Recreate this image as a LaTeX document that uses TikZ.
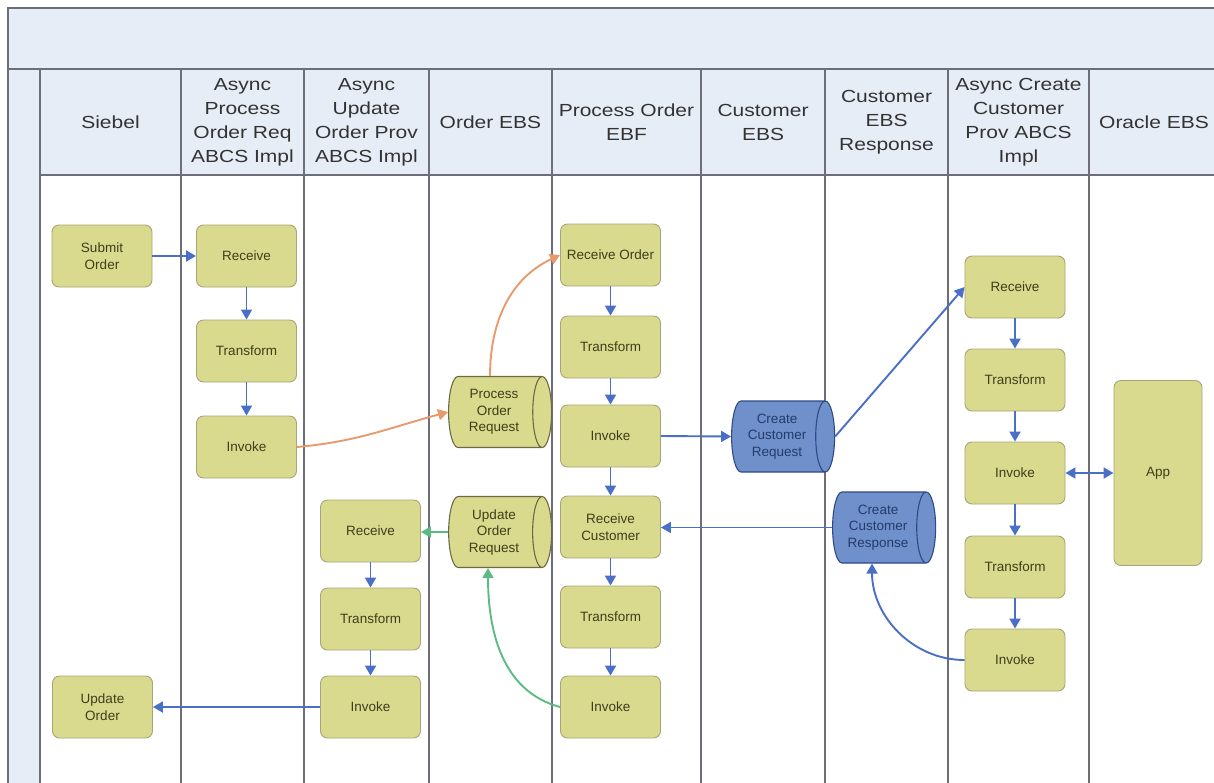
\documentclass[tikz,border=0pt]{standalone}
\usepackage{fontspec}
\newfontfamily\hdrfont[FakeStretch=1.2]{Liberation Sans}
\newfontfamily\bxfont{Liberation Sans}
\usetikzlibrary{shapes.geometric,arrows.meta}
\definecolor{bandbg}{HTML}{E7EDF7}
\definecolor{frameline}{HTML}{6E6E78}
\definecolor{boxfill}{HTML}{DADA8E}
\definecolor{boxline}{HTML}{A5A57A}
\definecolor{cylfline}{HTML}{6A6A45}
\definecolor{cylblue}{HTML}{7090CC}
\definecolor{cylline}{HTML}{2E4A86}
\definecolor{arrblue}{HTML}{4A6FC6}
\definecolor{arrorange}{HTML}{E79A6C}
\definecolor{arrgreen}{HTML}{5DBB82}
\definecolor{txtolive}{HTML}{3E3E1A}
\definecolor{hdrtext}{HTML}{333333}
\begin{document}
\begin{tikzpicture}[x=1pt,y=-1pt,
  lane/.style={draw=frameline, line width=1.3pt},
  hdr/.style={align=center, text=hdrtext, font=\hdrfont\fontsize{17.5}{24}\selectfont, inner sep=0pt},
  proc/.style={draw=boxline, fill=boxfill, rounded corners=7pt, minimum width=100pt, minimum height=62pt,
    inner sep=2pt, align=center, font=\bxfont\fontsize{13.5}{16.5}\selectfont, text=txtolive, line width=0.9pt},
  queue/.style={cylinder, shape aspect=0.4, draw=cylfline, line width=1.1pt, cylinder uses custom fill,
    cylinder body fill=boxfill, cylinder end fill=boxfill, minimum height=103pt, minimum width=71pt,
    inner sep=1pt, align=center, font=\bxfont\fontsize{13.5}{16.5}\selectfont, text=txtolive},
  bqueue/.style={queue, draw=cylline, cylinder body fill=cylblue, cylinder end fill=cylblue, text=cylline!80!black},
  flow/.style={draw=arrblue, line width=1.9pt, -{Triangle[length=10pt,width=11pt]}},
  oflow/.style={flow, draw=arrorange},
  gflow/.style={flow, draw=arrgreen}
]
\useasboundingbox (0,0) rectangle (1214,782);
% frame
\fill[bandbg] (8,8) rectangle (1220,175);
\fill[bandbg] (8,69) rectangle (40,790);
\draw[lane] (8,790) -- (8,8) -- (1220,8);
\draw[lane] (8,69) -- (1220,69);
\draw[lane] (40,175) -- (1220,175);
\foreach \x in {40,181,304,429,552,701,825,948,1089} \draw[lane] (\x,69) -- (\x,790);
% headers
\node[hdr] (h1) at (110.5,122) {Siebel};
\node[hdr] (h2) at (242.5,122) {Async\\Process\\Order Req\\ABCS Impl};
\node[hdr] (h3) at (366.5,122) {Async\\Update\\Order Prov\\ABCS Impl};
\node[hdr] (h4) at (490.5,122) {Order EBS};
\node[hdr] (h5) at (626.5,122) {Process Order\\EBF};
\node[hdr] (h6) at (763,122) {Customer\\EBS};
\node[hdr] (h7) at (886.5,122) {Customer\\EBS\\Response};
\node[hdr] (h8) at (1018.5,122) {Async Create\\Customer\\Prov ABCS\\Impl};
\node[hdr] (h9) at (1154,122) {Oracle EBS};
% Siebel
\node[proc] (submit) at (102,256) {Submit\\Order};
\node[proc] (uo) at (102.5,707) {Update\\Order};
% Async process order req
\node[proc] (r1) at (246.5,256) {Receive};
\node[proc] (t1) at (246.5,351) {Transform};
\node[proc] (i1) at (246.5,447) {Invoke};
% Async update order prov
\node[proc] (r4) at (370.5,531) {Receive};
\node[proc] (t4) at (370.5,619) {Transform};
\node[proc] (i4) at (370.5,707) {Invoke};
% Order EBS
\node[queue] (por) at (494,412) {Process\\Order\\Request};
\node[queue] (uor) at (494,532) {Update\\Order\\Request};
% Process Order EBF
\node[proc] (ro) at (610.5,255) {Receive Order};
\node[proc] (t2) at (610.5,347) {Transform};
\node[proc] (i2) at (610.5,436) {Invoke};
\node[proc] (rc) at (610.5,527) {Receive\\Customer};
\node[proc] (t3) at (610.5,617) {Transform};
\node[proc] (i3) at (610.5,707) {Invoke};
% Customer EBS
\node[bqueue] (ccreq) at (777,436.5) {Create\\Customer\\Request};
\node[bqueue] (ccresp) at (878,527.5) {Create\\Customer\\Response};
% Async create customer
\node[proc] (r5) at (1015,287) {Receive};
\node[proc] (t5) at (1015,380) {Transform};
\node[proc] (i5) at (1015,473) {Invoke};
\node[proc] (t6) at (1015,567) {Transform};
\node[proc] (i6) at (1015,660) {Invoke};
% Oracle EBS
\node[proc, minimum width=88pt, minimum height=185pt] (app) at (1158,473) {App};
% connectors
\draw[flow] (submit) -- (r1);
\draw[flow] (r1) -- (t1);
\draw[flow] (t1) -- (i1);
\draw[oflow] (i1.east) to[out=5,in=195] (por.west);
\draw[oflow] ([xshift=-4pt]por.north) to[out=90,in=205] (ro.west);
\draw[flow] (ro) -- (t2);
\draw[flow] (t2) -- (i2);
\draw[flow] (i2) -- (rc);
\draw[flow] (rc) -- (t3);
\draw[flow] (t3) -- (i3);
\draw[flow] (i2.east) -- (ccreq.west);
\draw[flow] (ccreq.east) -- (r5.west);
\draw[flow] (r5) -- (t5);
\draw[flow] (t5) -- (i5);
\draw[flow] (i5) -- (t6);
\draw[flow] (t6) -- (i6);
\draw[flow, {Triangle[length=10pt,width=11pt]}-{Triangle[length=10pt,width=11pt]}] (i5.east) -- (app.west);
\draw[flow] (i6.west) to[out=180,in=-90] ([xshift=-6pt]ccresp.south);
\draw[flow] (ccresp.west) -- (ccresp.west -| rc.east);
\draw[gflow] (i3.west) to[out=165,in=-90] ([xshift=-6pt]uor.south);
\draw[gflow] (uor.west) -- (uor.west -| r4.east);
\draw[flow] (r4) -- (t4);
\draw[flow] (t4) -- (i4);
\draw[flow] (i4.west) -- (i4.west -| uo.east);
\end{tikzpicture}
\end{document}
